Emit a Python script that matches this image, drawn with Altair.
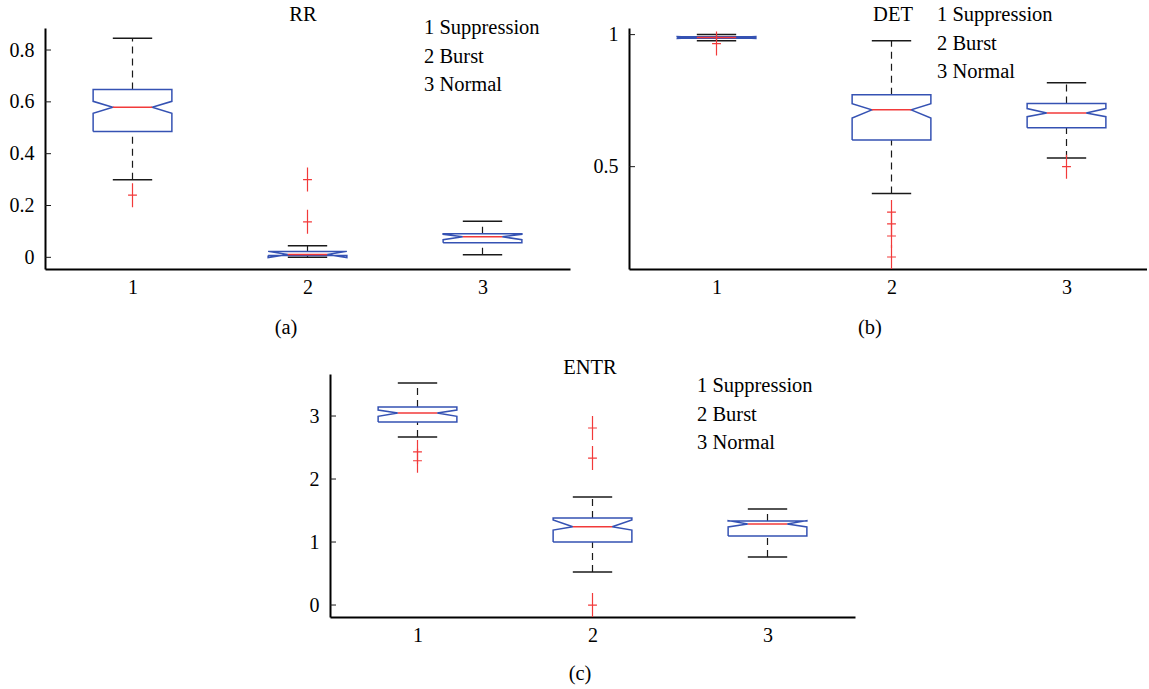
import altair as alt
import pandas as pd

# ---------------- data ----------------
GROUPS = [1, 2, 3]
X_TICK_LABELS = ["1", "2", "3"]
LEGEND_LABELS = ["1 Suppression", "2 Burst", "3 Normal"]
PANEL_TITLES = ["RR", "DET", "ENTR"]
PANEL_TAGS = ["(a)", "(b)", "(c)"]

# RR
RR_LO = [0.299, 0.000, 0.010]
RR_Q1 = [0.486, 0.007, 0.056]
RR_NLO = [0.556, -0.001, 0.068]
RR_MED = [0.579, 0.011, 0.0795]
RR_NHI = [0.602, 0.023, 0.089]
RR_Q3 = [0.648, 0.023, 0.091]
RR_HI = [0.845, 0.045, 0.139]
RR_OUT = [[0.24], [0.137, 0.30], []]
RR_YTICKS = [0, 0.2, 0.4, 0.6, 0.8]

# DET
DET_LO = [0.977, 0.398, 0.533]
DET_Q1 = [0.986, 0.601, 0.647]
DET_NLO = [0.985, 0.684, 0.689]
DET_MED = [0.989, 0.715, 0.703]
DET_NHI = [0.993, 0.738, 0.720]
DET_Q3 = [0.992, 0.772, 0.739]
DET_HI = [1.000, 0.977, 0.818]
DET_OUT = [[0.966], [0.328, 0.283, 0.2375, 0.158], [0.50]]
DET_YTICKS = [0.5, 1]

# ENTR
EN_LO = [2.667, 0.524, 0.762]
EN_Q1 = [2.905, 1.000, 1.095]
EN_NLO = [2.995, 1.190, 1.240]
EN_MED = [3.048, 1.243, 1.286]
EN_NHI = [3.095, 1.349, 1.340]
EN_Q3 = [3.143, 1.381, 1.333]
EN_HI = [3.524, 1.714, 1.524]
EN_OUT = [[2.43, 2.29], [2.81, 2.333, 0.0], []]
EN_YTICKS = [0, 1, 2, 3]

# ---------------- style ----------------
FONT = "Liberation Serif"
FS = 20.5       # titles, legends, tags
AFS = 20        # axis labels
BLUE = "#3552b3"
RED = "#f23a3a"
INK = "#1a1a1a"
HW = 0.225  # half box width in x units
PLUS = "M-0.37,0L0.37,0M0,-1L0,1"

OUTLINE = [(-1, "q1"), (-1, "nlo"), (-0.5, "med"), (-1, "nhi"), (-1, "q3"),
           (1, "q3"), (1, "nhi"), (0.5, "med"), (1, "nlo"), (1, "q1"), (-1, "q1")]

X_LABEL_EXPR = "[" + ",".join("'%s'" % s for s in X_TICK_LABELS) + "][datum.value - 1]"


def panel(stats, outliers, ydom, yticks, xmax, width, height,
          title, title_x, title_y, legend_x, legend_y, tag, tag_x, tag_y):
    lo, q1, nlo, med, nhi, q3, hi = stats
    st = pd.DataFrame(dict(g=GROUPS, lo=lo, q1=q1, nlo=nlo, med=med,
                           nhi=nhi, q3=q3, hi=hi))
    rows = []
    for _, r in st.iterrows():
        for k, (dx, key) in enumerate(OUTLINE):
            rows.append(dict(g=r["g"], k=k, x=r["g"] + dx * HW, y=r[key]))
    outline = pd.DataFrame(rows)
    outs = pd.DataFrame([dict(g=g, v=v) for g, vs in zip(GROUPS, outliers) for v in vs])

    xs = alt.Scale(domain=[0.5, xmax], nice=False, zero=False)
    ys = alt.Scale(domain=ydom, nice=False, zero=False)
    xaxis = alt.Axis(values=GROUPS, labelExpr=X_LABEL_EXPR, title=None)
    yaxis = alt.Axis(values=yticks, format="~g", title=None)

    def X(f):
        return alt.X(f, type="quantitative", scale=xs, axis=xaxis)

    def Y(f):
        return alt.Y(f, type="quantitative", scale=ys, axis=yaxis)

    base = alt.Chart(st)
    half = HW / 2
    whisk_up = base.mark_rule(strokeDash=[7, 5], color=INK, strokeWidth=1.2).encode(
        x=X("g"), y=Y("q3"), y2="hi")
    whisk_dn = base.mark_rule(strokeDash=[7, 5], color=INK, strokeWidth=1.2).encode(
        x=X("g"), y=Y("lo"), y2="q1")
    caps = base.transform_fold(["lo", "hi"], as_=["w", "v"]).transform_calculate(
        c1="datum.g - %f" % half, c2="datum.g + %f" % half
    ).mark_rule(color=INK, strokeWidth=1.5).encode(x=X("c1:Q"), x2="c2:Q", y=Y("v:Q"))
    box = alt.Chart(outline).mark_line(color=BLUE, strokeWidth=1.5).encode(
        x=X("x"), y=Y("y"), order="k:Q", detail="g:N")
    median = base.transform_calculate(
        c1="datum.g - %f" % half, c2="datum.g + %f" % half
    ).mark_rule(color=RED, strokeWidth=1.5).encode(x=X("c1:Q"), x2="c2:Q", y=Y("med"))
    pts = alt.Chart(outs).mark_point(shape=PLUS, size=576, filled=False, color=RED,
                                     strokeWidth=1.2, opacity=1).encode(x=X("g"), y=Y("v"))
    ticks = alt.Chart(pd.DataFrame({"t": yticks})).mark_rule(color=INK, strokeWidth=1).encode(
        x=alt.value(0), x2=alt.value(6), y=Y("t"))

    def txt(s, x, y, align, **kw):
        return alt.Chart(pd.DataFrame({"s": [s]})).mark_text(
            font=FONT, fontSize=FS, color="black", align=align, baseline="top", **kw
        ).encode(text="s:N", x=alt.value(x), y=alt.value(y))

    t_title = txt(title, title_x, title_y, "center")
    t_leg = txt("\n".join(LEGEND_LABELS), legend_x, legend_y, "left",
                lineBreak="\n", lineHeight=28.5)
    t_tag = txt(tag, tag_x, tag_y, "center")

    return alt.layer(ticks, whisk_up, whisk_dn, caps, box, median, pts,
                     t_title, t_leg, t_tag).properties(width=width, height=height)


pa = panel((RR_LO, RR_Q1, RR_NLO, RR_MED, RR_NHI, RR_Q3, RR_HI), RR_OUT,
           [-0.045, 0.885], RR_YTICKS, 3.5, 525, 241,
           PANEL_TITLES[0], 258, -23, 379, -10, PANEL_TAGS[0], 241, 290)
pb = panel((DET_LO, DET_Q1, DET_NLO, DET_MED, DET_NHI, DET_Q3, DET_HI), DET_OUT,
           [0.1125, 1.025], DET_YTICKS, 0.5 + 518 / 175, 518, 241,
           PANEL_TITLES[1], 264, -23, 308, -23, PANEL_TAGS[1], 241, 290)
pc = panel((EN_LO, EN_Q1, EN_NLO, EN_MED, EN_NHI, EN_Q3, EN_HI), EN_OUT,
           [-0.19, 3.667], EN_YTICKS, 3.5, 525, 243,
           PANEL_TITLES[2], 260, -16, 367, 2, PANEL_TAGS[2], 250, 290)

spacer = alt.Chart(pd.DataFrame({"s": [0]})).mark_rect(opacity=0).encode(
    x=alt.value(0), x2=alt.value(10), y=alt.value(0), y2=alt.value(10)
).properties(width=285, height=243)

row1 = alt.hconcat(pa, pb, spacing=59, bounds="flush")
row2 = alt.hconcat(spacer, pc, spacing=0, bounds="flush")

chart = alt.vconcat(row1, row2, spacing=19).properties(
    padding={"left": 9, "top": 5, "right": 0, "bottom": 0}
).configure_axis(
    domainColor="black", domainWidth=2, ticks=False, tickSize=0, grid=False,
    labelFont=FONT, labelFontSize=AFS, labelColor="black"
).configure_axisX(labelPadding=8).configure_axisY(labelPadding=11).configure_view(stroke=None)

chart.save("out.html", embed_options={"renderer": "svg", "actions": False})
